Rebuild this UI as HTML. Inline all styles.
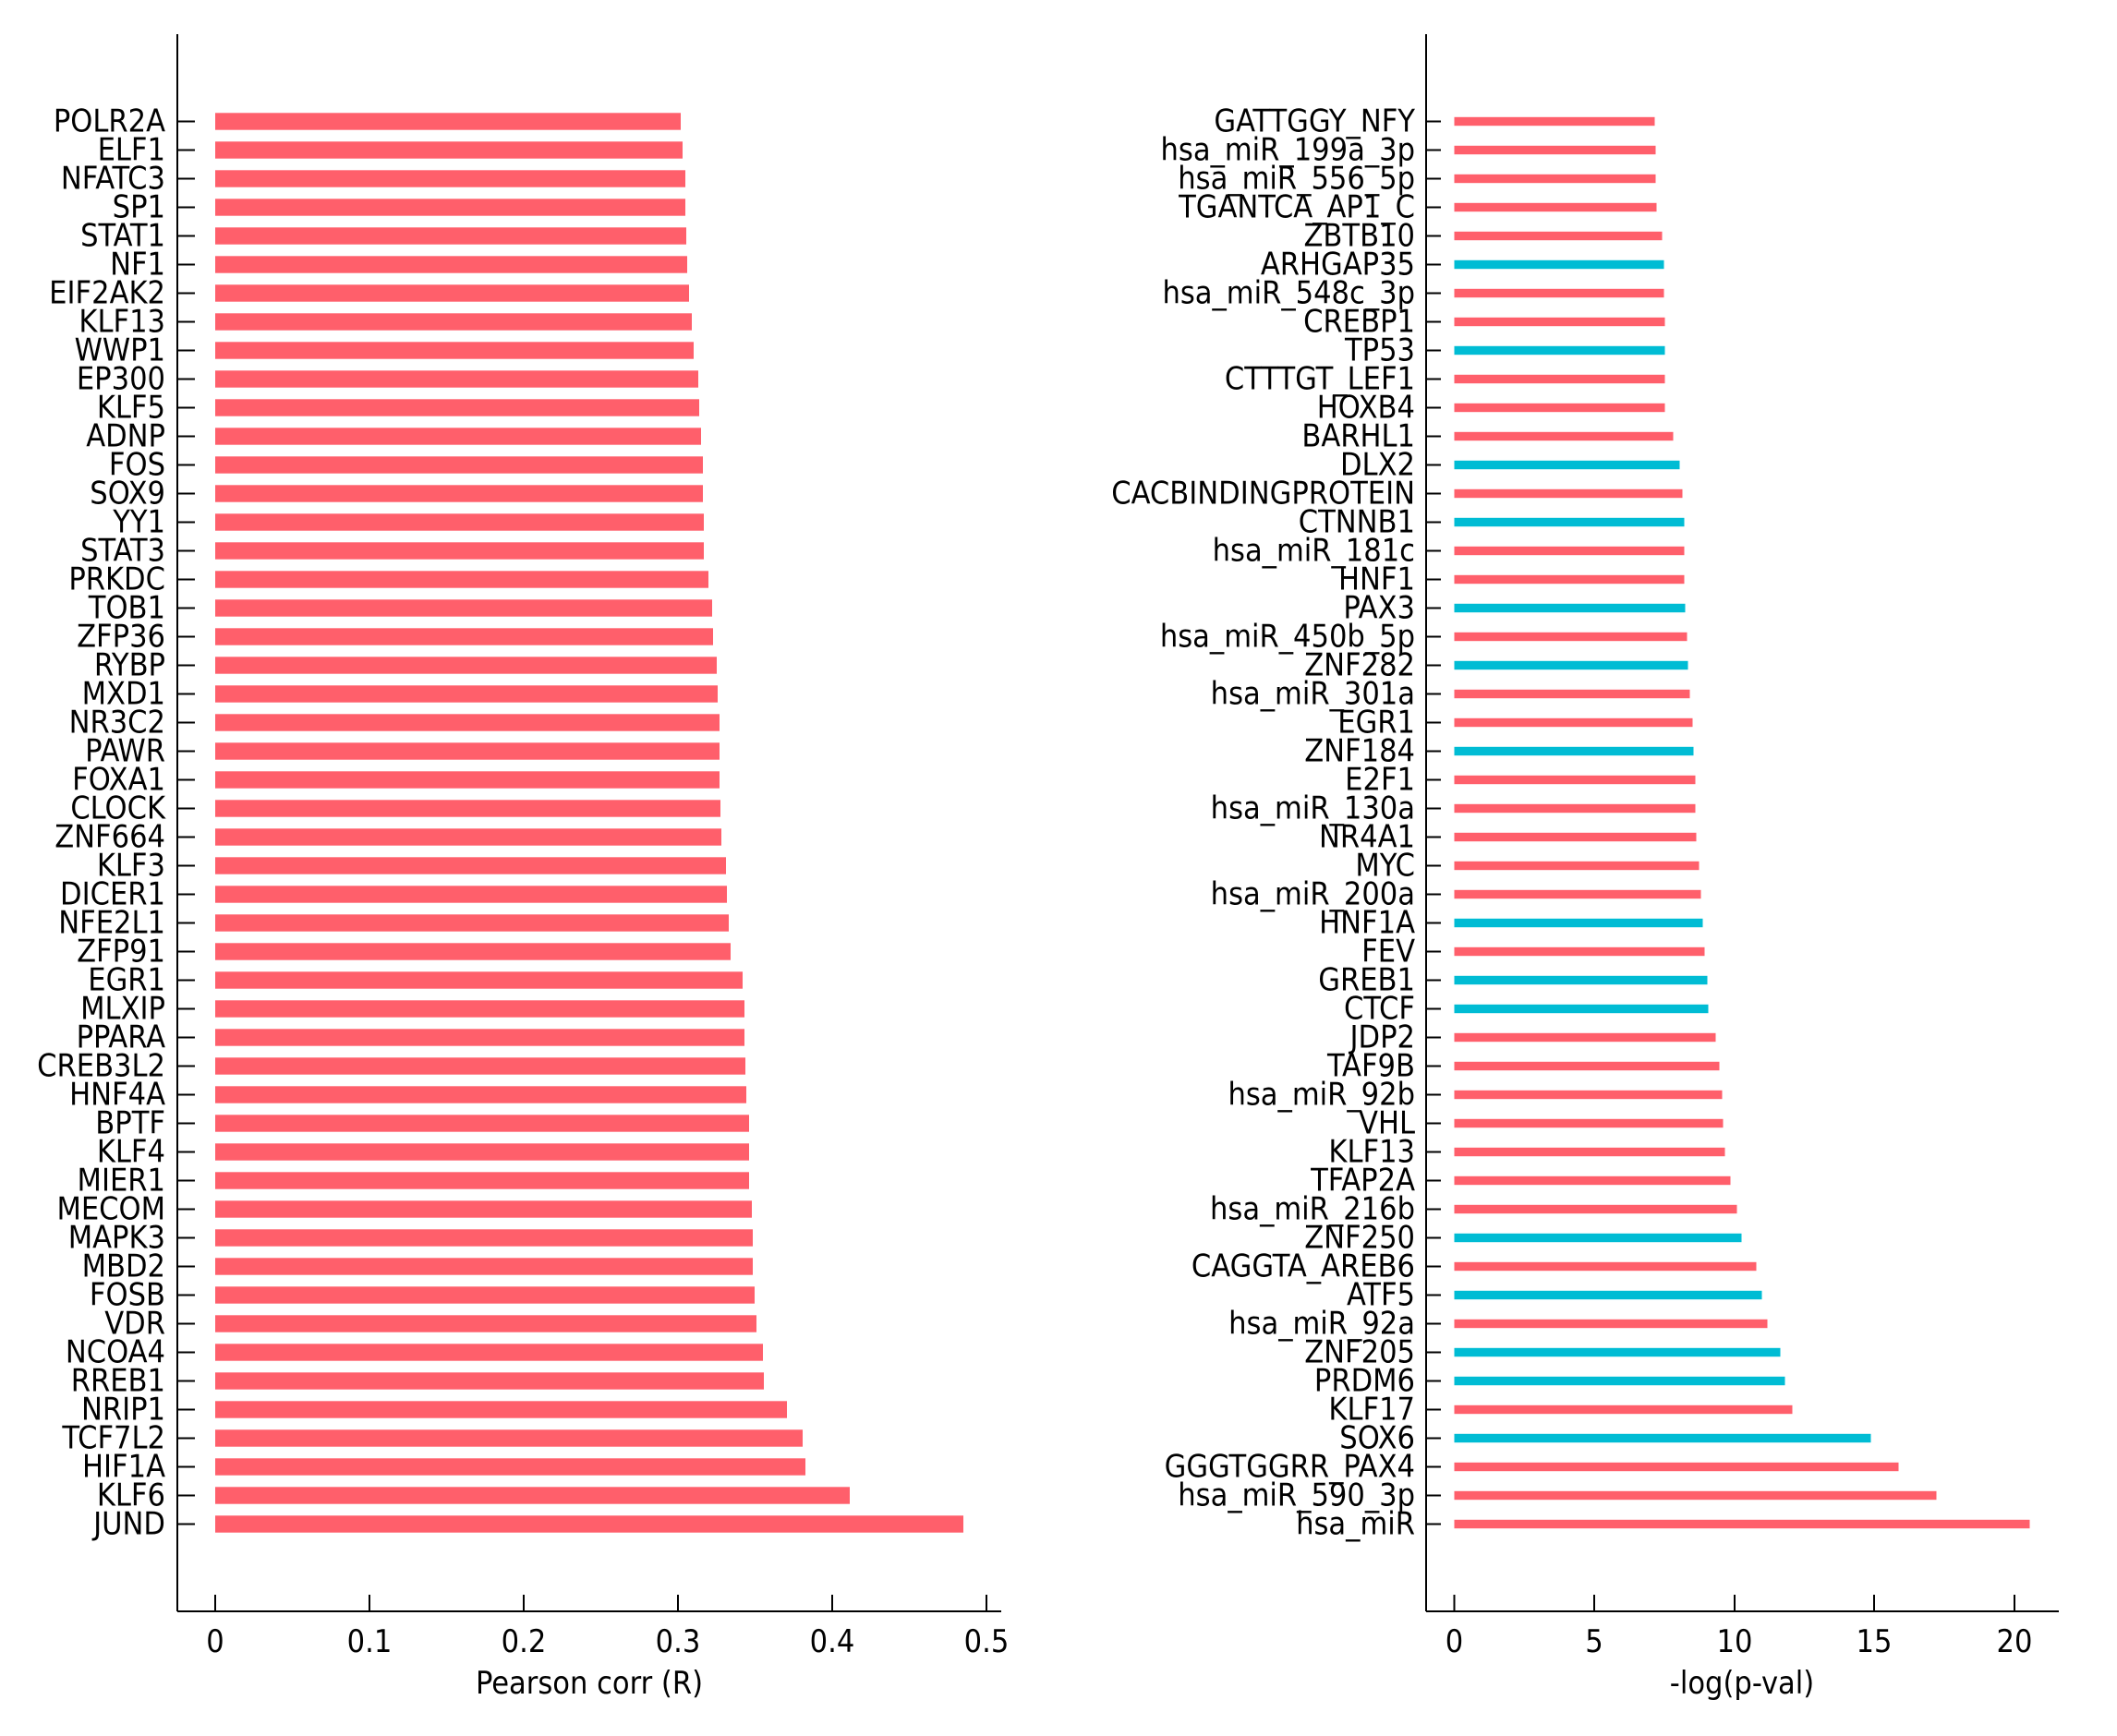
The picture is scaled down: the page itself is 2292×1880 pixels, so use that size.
<!DOCTYPE html>
<html><head><meta charset="utf-8"><style>
html,body{margin:0;padding:0;background:#fff}
svg text{font-family:"DejaVu Sans Condensed","Liberation Sans Narrow","Liberation Sans",sans-serif;font-size:34px;fill:#000}
.l text{text-anchor:end;dominant-baseline:central}
.r{fill:#ff5f6b}.t{fill:#00bcd4}
</style></head><body>
<svg width="2292" height="1875" viewBox="0 0 2292 1875" xmlns="http://www.w3.org/2000/svg">
<g stroke="#000" stroke-width="2" fill="none">
<line x1="192" y1="37" x2="192" y2="1745"/><line x1="192" y1="1745" x2="1084" y2="1745"/>
<line x1="1544" y1="37" x2="1544" y2="1745"/><line x1="1544" y1="1745" x2="2229" y2="1745"/>
<line x1="233" y1="1727" x2="233" y2="1745"/><line x1="400" y1="1727" x2="400" y2="1745"/><line x1="567" y1="1727" x2="567" y2="1745"/><line x1="734" y1="1727" x2="734" y2="1745"/><line x1="901" y1="1727" x2="901" y2="1745"/><line x1="1068" y1="1727" x2="1068" y2="1745"/>
<line x1="1574.5" y1="1727" x2="1574.5" y2="1745"/><line x1="1726" y1="1727" x2="1726" y2="1745"/><line x1="1878" y1="1727" x2="1878" y2="1745"/><line x1="2029" y1="1727" x2="2029" y2="1745"/><line x1="2181" y1="1727" x2="2181" y2="1745"/>
</g>
<g text-anchor="middle">
<text x="233" y="1789">0</text><text x="400" y="1789">0.1</text><text x="567" y="1789">0.2</text><text x="734" y="1789">0.3</text><text x="901" y="1789">0.4</text><text x="1068" y="1789">0.5</text>
<text x="1574.5" y="1789">0</text><text x="1726" y="1789">5</text><text x="1878" y="1789">10</text><text x="2029" y="1789">15</text><text x="2181" y="1789">20</text>
<text x="638" y="1834">Pearson corr (R)</text><text x="1886" y="1834">-log(p-val)</text>
</g>
<g class="l">
<g transform="translate(0,131.5)"><text x="179">POLR2A</text><rect class="r" x="233" y="-9.2" width="504" height="18.4"/></g>
<g transform="translate(0,162.5)"><text x="179">ELF1</text><rect class="r" x="233" y="-9.2" width="506" height="18.4"/></g>
<g transform="translate(0,193.5)"><text x="179">NFATC3</text><rect class="r" x="233" y="-9.2" width="509" height="18.4"/></g>
<g transform="translate(0,224.5)"><text x="179">SP1</text><rect class="r" x="233" y="-9.2" width="509" height="18.4"/></g>
<g transform="translate(0,255.5)"><text x="179">STAT1</text><rect class="r" x="233" y="-9.2" width="510" height="18.4"/></g>
<g transform="translate(0,286.5)"><text x="179">NF1</text><rect class="r" x="233" y="-9.2" width="511" height="18.4"/></g>
<g transform="translate(0,317.5)"><text x="179">EIF2AK2</text><rect class="r" x="233" y="-9.2" width="513" height="18.4"/></g>
<g transform="translate(0,348.5)"><text x="179">KLF13</text><rect class="r" x="233" y="-9.2" width="516" height="18.4"/></g>
<g transform="translate(0,379.5)"><text x="179">WWP1</text><rect class="r" x="233" y="-9.2" width="518" height="18.4"/></g>
<g transform="translate(0,410.5)"><text x="179">EP300</text><rect class="r" x="233" y="-9.2" width="523" height="18.4"/></g>
<g transform="translate(0,441.5)"><text x="179">KLF5</text><rect class="r" x="233" y="-9.2" width="524" height="18.4"/></g>
<g transform="translate(0,472.5)"><text x="179">ADNP</text><rect class="r" x="233" y="-9.2" width="526" height="18.4"/></g>
<g transform="translate(0,503.5)"><text x="179">FOS</text><rect class="r" x="233" y="-9.2" width="528" height="18.4"/></g>
<g transform="translate(0,534.5)"><text x="179">SOX9</text><rect class="r" x="233" y="-9.2" width="528" height="18.4"/></g>
<g transform="translate(0,565.5)"><text x="179">YY1</text><rect class="r" x="233" y="-9.2" width="529" height="18.4"/></g>
<g transform="translate(0,596.5)"><text x="179">STAT3</text><rect class="r" x="233" y="-9.2" width="529" height="18.4"/></g>
<g transform="translate(0,627.5)"><text x="179">PRKDC</text><rect class="r" x="233" y="-9.2" width="534" height="18.4"/></g>
<g transform="translate(0,658.5)"><text x="179">TOB1</text><rect class="r" x="233" y="-9.2" width="538" height="18.4"/></g>
<g transform="translate(0,689.5)"><text x="179">ZFP36</text><rect class="r" x="233" y="-9.2" width="539" height="18.4"/></g>
<g transform="translate(0,720.5)"><text x="179">RYBP</text><rect class="r" x="233" y="-9.2" width="543" height="18.4"/></g>
<g transform="translate(0,751.5)"><text x="179">MXD1</text><rect class="r" x="233" y="-9.2" width="544" height="18.4"/></g>
<g transform="translate(0,782.5)"><text x="179">NR3C2</text><rect class="r" x="233" y="-9.2" width="546" height="18.4"/></g>
<g transform="translate(0,813.5)"><text x="179">PAWR</text><rect class="r" x="233" y="-9.2" width="546" height="18.4"/></g>
<g transform="translate(0,844.5)"><text x="179">FOXA1</text><rect class="r" x="233" y="-9.2" width="546" height="18.4"/></g>
<g transform="translate(0,875.5)"><text x="179">CLOCK</text><rect class="r" x="233" y="-9.2" width="547" height="18.4"/></g>
<g transform="translate(0,906.5)"><text x="179">ZNF664</text><rect class="r" x="233" y="-9.2" width="548" height="18.4"/></g>
<g transform="translate(0,937.5)"><text x="179">KLF3</text><rect class="r" x="233" y="-9.2" width="553" height="18.4"/></g>
<g transform="translate(0,968.5)"><text x="179">DICER1</text><rect class="r" x="233" y="-9.2" width="554" height="18.4"/></g>
<g transform="translate(0,999.5)"><text x="179">NFE2L1</text><rect class="r" x="233" y="-9.2" width="556" height="18.4"/></g>
<g transform="translate(0,1030.5)"><text x="179">ZFP91</text><rect class="r" x="233" y="-9.2" width="558" height="18.4"/></g>
<g transform="translate(0,1061.5)"><text x="179">EGR1</text><rect class="r" x="233" y="-9.2" width="571" height="18.4"/></g>
<g transform="translate(0,1092.5)"><text x="179">MLXIP</text><rect class="r" x="233" y="-9.2" width="573" height="18.4"/></g>
<g transform="translate(0,1123.5)"><text x="179">PPARA</text><rect class="r" x="233" y="-9.2" width="573" height="18.4"/></g>
<g transform="translate(0,1154.5)"><text x="179">CREB3L2</text><rect class="r" x="233" y="-9.2" width="574" height="18.4"/></g>
<g transform="translate(0,1185.5)"><text x="179">HNF4A</text><rect class="r" x="233" y="-9.2" width="575" height="18.4"/></g>
<g transform="translate(0,1216.5)"><text x="179">BPTF</text><rect class="r" x="233" y="-9.2" width="578" height="18.4"/></g>
<g transform="translate(0,1247.5)"><text x="179">KLF4</text><rect class="r" x="233" y="-9.2" width="578" height="18.4"/></g>
<g transform="translate(0,1278.5)"><text x="179">MIER1</text><rect class="r" x="233" y="-9.2" width="578" height="18.4"/></g>
<g transform="translate(0,1309.5)"><text x="179">MECOM</text><rect class="r" x="233" y="-9.2" width="581" height="18.4"/></g>
<g transform="translate(0,1340.5)"><text x="179">MAPK3</text><rect class="r" x="233" y="-9.2" width="582" height="18.4"/></g>
<g transform="translate(0,1371.5)"><text x="179">MBD2</text><rect class="r" x="233" y="-9.2" width="582" height="18.4"/></g>
<g transform="translate(0,1402.5)"><text x="179">FOSB</text><rect class="r" x="233" y="-9.2" width="584" height="18.4"/></g>
<g transform="translate(0,1433.5)"><text x="179">VDR</text><rect class="r" x="233" y="-9.2" width="586" height="18.4"/></g>
<g transform="translate(0,1464.5)"><text x="179">NCOA4</text><rect class="r" x="233" y="-9.2" width="593" height="18.4"/></g>
<g transform="translate(0,1495.5)"><text x="179">RREB1</text><rect class="r" x="233" y="-9.2" width="594" height="18.4"/></g>
<g transform="translate(0,1526.5)"><text x="179">NRIP1</text><rect class="r" x="233" y="-9.2" width="619" height="18.4"/></g>
<g transform="translate(0,1557.5)"><text x="179">TCF7L2</text><rect class="r" x="233" y="-9.2" width="636" height="18.4"/></g>
<g transform="translate(0,1588.5)"><text x="179">HIF1A</text><rect class="r" x="233" y="-9.2" width="639" height="18.4"/></g>
<g transform="translate(0,1619.5)"><text x="179">KLF6</text><rect class="r" x="233" y="-9.2" width="687" height="18.4"/></g>
<g transform="translate(0,1650.5)"><text x="179">JUND</text><rect class="r" x="233" y="-9.2" width="810" height="18.4"/></g>
</g>
<g class="l">
<g transform="translate(0,131.5)"><text x="1532">GATTGGY_NFY</text><rect class="r" x="1574.5" y="-4.7" width="217" height="9.4"/></g>
<g transform="translate(0,162.5)"><text x="1532">hsa_miR_199a_3p</text><rect class="r" x="1574.5" y="-4.7" width="218" height="9.4"/></g>
<g transform="translate(0,193.5)"><text x="1532">hsa_miR_556_5p</text><rect class="r" x="1574.5" y="-4.7" width="218" height="9.4"/></g>
<g transform="translate(0,224.5)"><text x="1532">TGANTCA_AP1_C</text><rect class="r" x="1574.5" y="-4.7" width="219" height="9.4"/></g>
<g transform="translate(0,255.5)"><text x="1532">ZBTB10</text><rect class="r" x="1574.5" y="-4.7" width="225" height="9.4"/></g>
<g transform="translate(0,286.5)"><text x="1532">ARHGAP35</text><rect class="t" x="1574.5" y="-4.7" width="227" height="9.4"/></g>
<g transform="translate(0,317.5)"><text x="1532">hsa_miR_548c_3p</text><rect class="r" x="1574.5" y="-4.7" width="227" height="9.4"/></g>
<g transform="translate(0,348.5)"><text x="1532">CREBP1</text><rect class="r" x="1574.5" y="-4.7" width="228" height="9.4"/></g>
<g transform="translate(0,379.5)"><text x="1532">TP53</text><rect class="t" x="1574.5" y="-4.7" width="228" height="9.4"/></g>
<g transform="translate(0,410.5)"><text x="1532">CTTTGT_LEF1</text><rect class="r" x="1574.5" y="-4.7" width="228" height="9.4"/></g>
<g transform="translate(0,441.5)"><text x="1532">HOXB4</text><rect class="r" x="1574.5" y="-4.7" width="228" height="9.4"/></g>
<g transform="translate(0,472.5)"><text x="1532">BARHL1</text><rect class="r" x="1574.5" y="-4.7" width="237" height="9.4"/></g>
<g transform="translate(0,503.5)"><text x="1532">DLX2</text><rect class="t" x="1574.5" y="-4.7" width="244" height="9.4"/></g>
<g transform="translate(0,534.5)"><text x="1532">CACBINDINGPROTEIN</text><rect class="r" x="1574.5" y="-4.7" width="247" height="9.4"/></g>
<g transform="translate(0,565.5)"><text x="1532">CTNNB1</text><rect class="t" x="1574.5" y="-4.7" width="249" height="9.4"/></g>
<g transform="translate(0,596.5)"><text x="1532">hsa_miR_181c</text><rect class="r" x="1574.5" y="-4.7" width="249" height="9.4"/></g>
<g transform="translate(0,627.5)"><text x="1532">HNF1</text><rect class="r" x="1574.5" y="-4.7" width="249" height="9.4"/></g>
<g transform="translate(0,658.5)"><text x="1532">PAX3</text><rect class="t" x="1574.5" y="-4.7" width="250" height="9.4"/></g>
<g transform="translate(0,689.5)"><text x="1532">hsa_miR_450b_5p</text><rect class="r" x="1574.5" y="-4.7" width="252" height="9.4"/></g>
<g transform="translate(0,720.5)"><text x="1532">ZNF282</text><rect class="t" x="1574.5" y="-4.7" width="253" height="9.4"/></g>
<g transform="translate(0,751.5)"><text x="1532">hsa_miR_301a</text><rect class="r" x="1574.5" y="-4.7" width="255" height="9.4"/></g>
<g transform="translate(0,782.5)"><text x="1532">EGR1</text><rect class="r" x="1574.5" y="-4.7" width="258" height="9.4"/></g>
<g transform="translate(0,813.5)"><text x="1532">ZNF184</text><rect class="t" x="1574.5" y="-4.7" width="259" height="9.4"/></g>
<g transform="translate(0,844.5)"><text x="1532">E2F1</text><rect class="r" x="1574.5" y="-4.7" width="261" height="9.4"/></g>
<g transform="translate(0,875.5)"><text x="1532">hsa_miR_130a</text><rect class="r" x="1574.5" y="-4.7" width="261" height="9.4"/></g>
<g transform="translate(0,906.5)"><text x="1532">NR4A1</text><rect class="r" x="1574.5" y="-4.7" width="262" height="9.4"/></g>
<g transform="translate(0,937.5)"><text x="1532">MYC</text><rect class="r" x="1574.5" y="-4.7" width="265" height="9.4"/></g>
<g transform="translate(0,968.5)"><text x="1532">hsa_miR_200a</text><rect class="r" x="1574.5" y="-4.7" width="267" height="9.4"/></g>
<g transform="translate(0,999.5)"><text x="1532">HNF1A</text><rect class="t" x="1574.5" y="-4.7" width="269" height="9.4"/></g>
<g transform="translate(0,1030.5)"><text x="1532">FEV</text><rect class="r" x="1574.5" y="-4.7" width="271" height="9.4"/></g>
<g transform="translate(0,1061.5)"><text x="1532">GREB1</text><rect class="t" x="1574.5" y="-4.7" width="274" height="9.4"/></g>
<g transform="translate(0,1092.5)"><text x="1532">CTCF</text><rect class="t" x="1574.5" y="-4.7" width="275" height="9.4"/></g>
<g transform="translate(0,1123.5)"><text x="1532">JDP2</text><rect class="r" x="1574.5" y="-4.7" width="283" height="9.4"/></g>
<g transform="translate(0,1154.5)"><text x="1532">TAF9B</text><rect class="r" x="1574.5" y="-4.7" width="287" height="9.4"/></g>
<g transform="translate(0,1185.5)"><text x="1532">hsa_miR_92b</text><rect class="r" x="1574.5" y="-4.7" width="290" height="9.4"/></g>
<g transform="translate(0,1216.5)"><text x="1532">VHL</text><rect class="r" x="1574.5" y="-4.7" width="291" height="9.4"/></g>
<g transform="translate(0,1247.5)"><text x="1532">KLF13</text><rect class="r" x="1574.5" y="-4.7" width="293" height="9.4"/></g>
<g transform="translate(0,1278.5)"><text x="1532">TFAP2A</text><rect class="r" x="1574.5" y="-4.7" width="299" height="9.4"/></g>
<g transform="translate(0,1309.5)"><text x="1532">hsa_miR_216b</text><rect class="r" x="1574.5" y="-4.7" width="306" height="9.4"/></g>
<g transform="translate(0,1340.5)"><text x="1532">ZNF250</text><rect class="t" x="1574.5" y="-4.7" width="311" height="9.4"/></g>
<g transform="translate(0,1371.5)"><text x="1532">CAGGTA_AREB6</text><rect class="r" x="1574.5" y="-4.7" width="327" height="9.4"/></g>
<g transform="translate(0,1402.5)"><text x="1532">ATF5</text><rect class="t" x="1574.5" y="-4.7" width="333" height="9.4"/></g>
<g transform="translate(0,1433.5)"><text x="1532">hsa_miR_92a</text><rect class="r" x="1574.5" y="-4.7" width="339" height="9.4"/></g>
<g transform="translate(0,1464.5)"><text x="1532">ZNF205</text><rect class="t" x="1574.5" y="-4.7" width="353" height="9.4"/></g>
<g transform="translate(0,1495.5)"><text x="1532">PRDM6</text><rect class="t" x="1574.5" y="-4.7" width="358" height="9.4"/></g>
<g transform="translate(0,1526.5)"><text x="1532">KLF17</text><rect class="r" x="1574.5" y="-4.7" width="366" height="9.4"/></g>
<g transform="translate(0,1557.5)"><text x="1532">SOX6</text><rect class="t" x="1574.5" y="-4.7" width="451" height="9.4"/></g>
<g transform="translate(0,1588.5)"><text x="1532">GGGTGGRR_PAX4</text><rect class="r" x="1574.5" y="-4.7" width="481" height="9.4"/></g>
<g transform="translate(0,1619.5)"><text x="1532">hsa_miR_590_3p</text><rect class="r" x="1574.5" y="-4.7" width="522" height="9.4"/></g>
<g transform="translate(0,1650.5)"><text x="1532">hsa_miR</text><rect class="r" x="1574.5" y="-4.7" width="623" height="9.4"/></g>
</g>
<g stroke="#000" stroke-width="2">
<path d="M192 131.5h19M192 162.5h19M192 193.5h19M192 224.5h19M192 255.5h19M192 286.5h19M192 317.5h19M192 348.5h19M192 379.5h19M192 410.5h19M192 441.5h19M192 472.5h19M192 503.5h19M192 534.5h19M192 565.5h19M192 596.5h19M192 627.5h19M192 658.5h19M192 689.5h19M192 720.5h19M192 751.5h19M192 782.5h19M192 813.5h19M192 844.5h19M192 875.5h19M192 906.5h19M192 937.5h19M192 968.5h19M192 999.5h19M192 1030.5h19M192 1061.5h19M192 1092.5h19M192 1123.5h19M192 1154.5h19M192 1185.5h19M192 1216.5h19M192 1247.5h19M192 1278.5h19M192 1309.5h19M192 1340.5h19M192 1371.5h19M192 1402.5h19M192 1433.5h19M192 1464.5h19M192 1495.5h19M192 1526.5h19M192 1557.5h19M192 1588.5h19M192 1619.5h19M192 1650.5h19"/>
<path d="M1544 131.5h16M1544 162.5h16M1544 193.5h16M1544 224.5h16M1544 255.5h16M1544 286.5h16M1544 317.5h16M1544 348.5h16M1544 379.5h16M1544 410.5h16M1544 441.5h16M1544 472.5h16M1544 503.5h16M1544 534.5h16M1544 565.5h16M1544 596.5h16M1544 627.5h16M1544 658.5h16M1544 689.5h16M1544 720.5h16M1544 751.5h16M1544 782.5h16M1544 813.5h16M1544 844.5h16M1544 875.5h16M1544 906.5h16M1544 937.5h16M1544 968.5h16M1544 999.5h16M1544 1030.5h16M1544 1061.5h16M1544 1092.5h16M1544 1123.5h16M1544 1154.5h16M1544 1185.5h16M1544 1216.5h16M1544 1247.5h16M1544 1278.5h16M1544 1309.5h16M1544 1340.5h16M1544 1371.5h16M1544 1402.5h16M1544 1433.5h16M1544 1464.5h16M1544 1495.5h16M1544 1526.5h16M1544 1557.5h16M1544 1588.5h16M1544 1619.5h16M1544 1650.5h16"/>
</g>
</svg>
</body></html>
